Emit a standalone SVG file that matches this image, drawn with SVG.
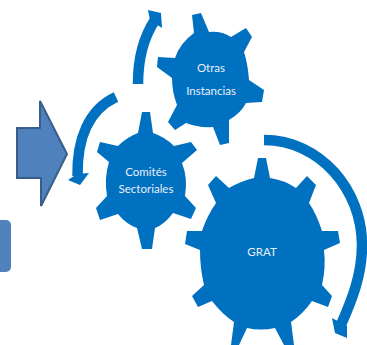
<svg xmlns="http://www.w3.org/2000/svg" width="367" height="345" viewBox="0 0 367 345">
<style>
.gear{fill:#0070c0}
.arc{fill:none;stroke:#0070c0;stroke-width:10.5}
.head{fill:#0070c0}
.lbl{fill:#e8f1f8;font-family:Lato,"Open Sans","Liberation Sans",sans-serif;font-size:11.5px;text-anchor:middle}
.blue{fill:#4f81bd}
</style>
<rect width="367" height="345" fill="#fff"/>
<g id="connectors">
<path class="arc" d="M264,140 C320,140 362,190 362,245 C362,275 352,300 340,327"/>
<polygon class="head" points="332,318 335,333 347,338 347,326"/>
<path class="arc" d="M116,97 C88,110 77,140 77.5,176"/>
<polygon class="head" points="68,180 80,185 89,173 77,174"/>
<path class="arc" d="M138,84 C138,60 143,38 155,20"/>
<polygon class="head" points="148,10 161,13 162,28 150,20"/>
</g>
<g id="input-arrow">
<path class="blue" stroke="#385d8a" stroke-width="2" d="M17,128 H40 V101 L67,154 L41,206 V178 H17 Z"/>
</g>
<g id="side-box">
<rect class="blue" x="-12" y="220" width="23" height="52" rx="5"/>
</g>
<g id="gear-otras">
<path class="gear" d="M192,15 L201,13 L209,32 Q222,31 231,37 L246,28 L252,37 L244,52 Q248,65 249,80 L264,90 L262,102 L246,103 Q241,113 229,120 L229,143 L220,145 L213,127 Q198,128 186,123 L175,130 L168,122 L177,105 Q172,92 172,78 L157,67 L158,57 L175,58 Q180,43 194,33 Z"/>
<text class="lbl" x="211" y="72">Otras</text>
<text class="lbl" x="211" y="95">Instancias</text>
</g>
<g id="gear-comites">
<path class="gear" d="M142,112 L150,112 L153,133 Q165,137 174,146 L191,142 L197,150 L182,163 Q188,178 185,196 L196,208 L191,219 L173,213 Q165,224 155,228 L152,249 L142,249 L137,228 Q126,224 118,214 L100,220 L96,208 L107,196 Q104,178 109,162 L97,152 L100,142 L118,146 Q127,137 138,133 Z"/>
<text class="lbl" x="146" y="176">Comités</text>
<text class="lbl" x="146" y="193">Sectoriales</text>
</g>
<g id="gear-grat">
<path class="gear" d="M258,158 L266,158 L270,178 Q284,180 296,188 L307,176 L316,185 L309,203 Q317,215 322,231 L338,231 L340,243 L324,250 Q326,268 322,285 L332,296 L328,307 L312,301 Q303,314 291,322 L294,345 L284,345 L275,328 Q261,331 247,328 L239,345 L231,345 L234,322 Q222,314 212,301 L198,307 L192,296 L204,285 Q200,268 200,250 L185,244 L187,231 L202,231 Q207,216 216,203 L208,185 L216,176 L229,188 Q241,181 254,178 Z"/>
<text class="lbl" x="262" y="256">GRAT</text>
</g>
</svg>
